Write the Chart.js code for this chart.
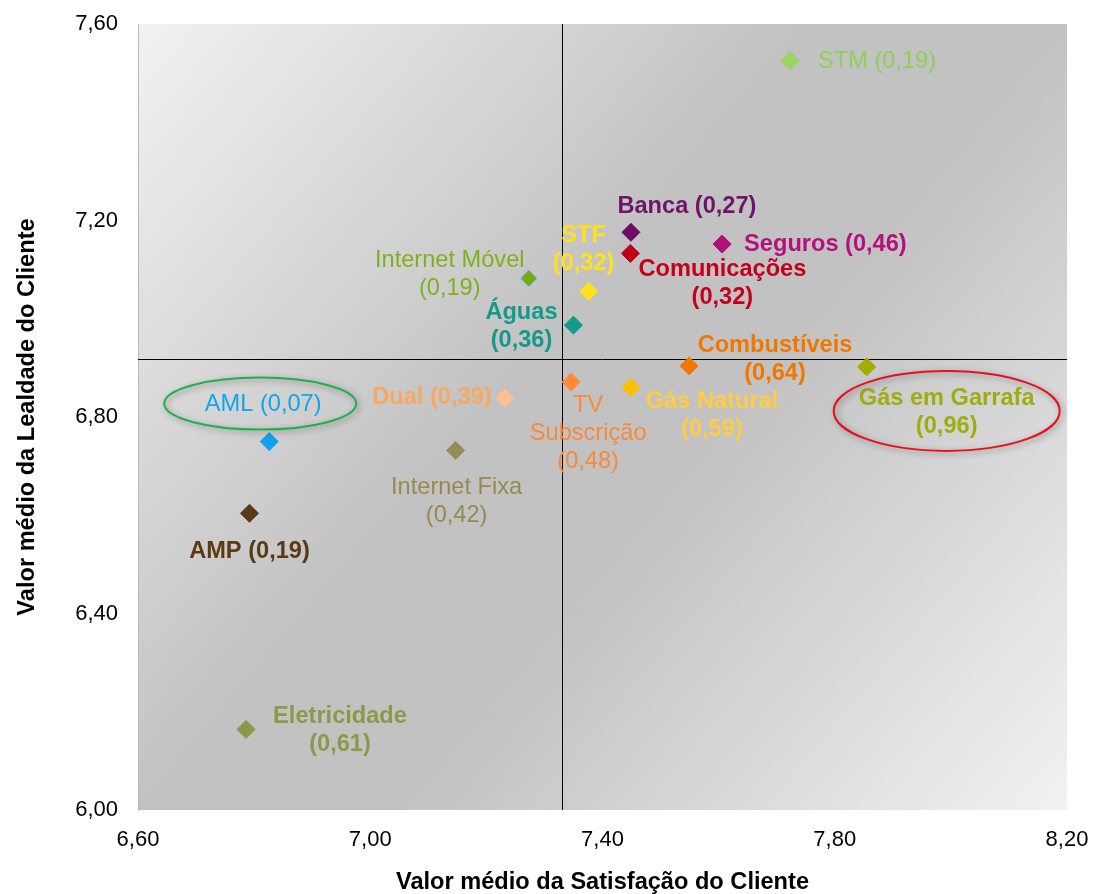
<!DOCTYPE html>
<html>
<head>
<meta charset="utf-8">
<script src="https://cdn.jsdelivr.net/npm/chart.js@4/dist/chart.umd.min.js"></script>
<style>
  html, body { margin: 0; padding: 0; background: #ffffff; }
  #wrap { width: 1093px; height: 894px; position: relative; }
</style>
</head>
<body>
<div id="wrap"><canvas id="chart" width="1093" height="894"></canvas></div>
<script>
// Sectors: mean satisfaction (x), mean loyalty (y) and the coefficient shown in brackets
const sectors = ['STM', 'Banca', 'Seguros', 'Comunicações', 'Internet Móvel', 'STF', 'Águas',
  'Combustíveis', 'Gás em Garrafa', 'TV Subscrição', 'Gás Natural', 'Dual', 'AML',
  'Internet Fixa', 'AMP', 'Eletricidade'];
const satisfaction = [7.723, 7.449, 7.606, 7.448, 7.273, 7.376, 7.350,
  7.549, 7.855, 7.346, 7.449, 7.232, 6.826,
  7.147, 6.792, 6.786];
const loyalty = [7.525, 7.176, 7.152, 7.133, 7.082, 7.056, 6.987,
  6.904, 6.902, 6.871, 6.860, 6.839, 6.750,
  6.732, 6.604, 6.164];
const coefficients = [0.19, 0.27, 0.46, 0.32, 0.19, 0.32, 0.36,
  0.64, 0.96, 0.48, 0.59, 0.39, 0.07,
  0.42, 0.19, 0.61];

// Axis ticks and the quadrant dividers (overall means)
const xTickValues = [6.6, 7.0, 7.4, 7.8, 8.2];
const yTickValues = [6.0, 6.4, 6.8, 7.2, 7.6];
const meanSatisfaction = 7.331;
const meanLoyalty = 6.918;

// Sectors circled on the chart
const highlighted = ['AML', 'Gás em Garrafa'];

// Styling
const markerColors = ['#9bd462', '#6c0f62', '#b0107a', '#c00018', '#78a812', '#ffe21f', '#139a8c',
  '#f07800', '#a2ad00', '#ff8a3a', '#ffc000', '#fcc095', '#10a2f0',
  '#958b55', '#583a14', '#889848'];
const textColors = ['#8fd058', '#70146a', '#b5117e', '#c4001c', '#80b020', '#ffe020', '#149a8c',
  '#f07800', '#a0ad10', '#f78a3c', '#ffcc44', '#f9a862', '#14a4ec',
  '#958a50', '#5a3a12', '#8a9a48'];
// Label placement relative to the marker (px): wrap = inline | stack | words
const labelLayout = [
  { dx: 28, dy: 1, align: 'left', wrap: 'inline', bold: false },
  { dx: 56, dy: -26, wrap: 'inline', bold: true },
  { dx: 22, dy: 0, align: 'left', wrap: 'inline', bold: true },
  { dx: 92, dy: 30, wrap: 'stack', bold: true },
  { dx: -79, dy: -4, wrap: 'stack', bold: false },
  { dx: -5, dy: -42, wrap: 'stack', bold: true },
  { dx: -52, dy: 1, wrap: 'stack', bold: true },
  { dx: 86, dy: -6, wrap: 'stack', bold: true },
  { dx: 80, dy: 46, wrap: 'stack', bold: true },
  { dx: 17, dy: 51, wrap: 'words', bold: false },
  { dx: 81, dy: 28, wrap: 'stack', bold: true },
  { dx: -73, dy: 0, wrap: 'inline', bold: true },
  { dx: -6, dy: -37, wrap: 'inline', bold: false },
  { dx: 1, dy: 51, wrap: 'stack', bold: false },
  { dx: 0, dy: 38, wrap: 'inline', bold: true },
  { dx: 94, dy: 1, wrap: 'stack', bold: true }
];
const ringStyles = {
  'AML': { color: '#1db04b', rx: 96, ry: 26, ox: -3, oy: -1 },
  'Gás em Garrafa': { color: '#e8101c', rx: 113, ry: 40, ox: 0, oy: -2 }
};

const FONT = '"Liberation Sans", Arial, sans-serif';
const fmt = v => v.toFixed(2).replace('.', ',');

function labelLines(i) {
  const name = sectors[i];
  const val = '(' + fmt(coefficients[i]) + ')';
  const w = labelLayout[i].wrap;
  if (w === 'inline') return [name + ' ' + val];
  if (w === 'words') return name.split(' ').concat([val]);
  return [name, val];
}

// Diagonal grey gradient behind the plot area
const plotBackground = {
  id: 'plotBackground',
  beforeDraw(chart) {
    const { ctx, chartArea: a } = chart;
    const g = ctx.createLinearGradient(a.left, a.top, a.right, a.bottom);
    g.addColorStop(0, '#f2f2f2');
    g.addColorStop(0.42, '#c2c2c2');
    g.addColorStop(0.58, '#c2c2c2');
    g.addColorStop(1, '#f2f2f2');
    ctx.save();
    ctx.fillStyle = g;
    ctx.fillRect(a.left, a.top, a.right - a.left, a.bottom - a.top);
    ctx.restore();
  }
};

// Quadrant lines at the mean values
const quadrantLines = {
  id: 'quadrantLines',
  beforeDatasetsDraw(chart) {
    const { ctx, chartArea: a, scales } = chart;
    const x = Math.round(scales.x.getPixelForValue(meanSatisfaction)) + 0.5;
    const y = Math.round(scales.y.getPixelForValue(meanLoyalty)) + 0.5;
    ctx.save();
    ctx.strokeStyle = '#000000';
    ctx.lineWidth = 1;
    ctx.beginPath();
    ctx.moveTo(x, a.top); ctx.lineTo(x, a.bottom);
    ctx.moveTo(a.left, y); ctx.lineTo(a.right, y);
    ctx.stroke();
    ctx.restore();
  }
};

// Sector names with coefficients, plus rings around highlighted sectors
const sectorLabels = {
  id: 'sectorLabels',
  afterDatasetsDraw(chart) {
    const { ctx } = chart;
    const meta = chart.getDatasetMeta(0);
    const lh = 28;
    ctx.save();
    meta.data.forEach((pt, i) => {
      const L = labelLayout[i];
      const lines = labelLines(i);
      const cx = pt.x + L.dx;
      const cy = pt.y + L.dy;
      ctx.font = (L.bold ? 'bold ' : '') + '23.6px ' + FONT;
      ctx.fillStyle = textColors[i];
      ctx.textAlign = L.align || 'center';
      ctx.textBaseline = 'middle';
      const y0 = cy - (lines.length - 1) * lh / 2;
      lines.forEach((t, k) => ctx.fillText(t, cx, y0 + k * lh));

      if (highlighted.includes(sectors[i])) {
        const r = ringStyles[sectors[i]];
        ctx.save();
        ctx.shadowColor = 'rgba(0,0,0,0.4)';
        ctx.shadowBlur = 6;
        ctx.shadowOffsetX = 2;
        ctx.shadowOffsetY = 2;
        ctx.strokeStyle = r.color;
        ctx.lineWidth = 2;
        ctx.beginPath();
        ctx.ellipse(cx + r.ox, cy + r.oy, r.rx, r.ry, 0, 0, Math.PI * 2);
        ctx.stroke();
        ctx.restore();
      }
    });
    ctx.restore();
  }
};

const points = sectors.map((s, i) => ({ x: satisfaction[i], y: loyalty[i] }));
const isOutlined = i => sectors[i] === 'Internet Móvel';

new Chart(document.getElementById('chart'), {
  type: 'scatter',
  data: {
    datasets: [{
      data: points,
      pointStyle: 'rectRot',
      pointRadius: markerColors.map((c, i) => isOutlined(i) ? 10 : 9),
      pointHoverRadius: markerColors.map((c, i) => isOutlined(i) ? 10 : 9),
      backgroundColor: markerColors,
      borderColor: markerColors.map((c, i) => isOutlined(i) ? '#b4c6e6' : c),
      borderWidth: markerColors.map((c, i) => isOutlined(i) ? 2.5 : 1)
    }]
  },
  options: {
    responsive: false,
    animation: false,
    events: [],
    layout: { padding: { left: 0, right: 26, top: 24, bottom: 0 } },
    plugins: { legend: { display: false }, tooltip: { enabled: false } },
    scales: {
      x: {
        type: 'linear',
        min: xTickValues[0],
        max: xTickValues[xTickValues.length - 1],
        afterBuildTicks: s => { s.ticks = xTickValues.map(v => ({ value: v })); },
        afterFit: s => { s.height = 84; s.paddingLeft = 0; s.paddingRight = 0; },
        grid: { display: false, drawTicks: false },
        border: { display: false },
        ticks: {
          padding: 17,
          color: '#000000',
          font: { family: FONT, size: 22 },
          callback: v => fmt(v)
        },
        title: {
          display: true,
          text: 'Valor médio da Satisfação do Cliente',
          color: '#000000',
          font: { family: FONT, size: 23.6, weight: 'bold', lineHeight: 1 },
          padding: { top: 0, bottom: 0 }
        }
      },
      y: {
        type: 'linear',
        min: yTickValues[0],
        max: yTickValues[yTickValues.length - 1],
        afterBuildTicks: s => { s.ticks = yTickValues.map(v => ({ value: v })); },
        afterFit: s => { s.width = 138; s.paddingTop = 0; s.paddingBottom = 0; },
        grid: { display: false, drawTicks: false },
        border: { display: true, color: '#b8b8b8', width: 1 },
        ticks: {
          padding: 20,
          color: '#000000',
          font: { family: FONT, size: 22 },
          callback: v => fmt(v)
        },
        title: {
          display: true,
          text: 'Valor médio da Lealdade do Cliente',
          color: '#000000',
          font: { family: FONT, size: 23.6, weight: 'bold', lineHeight: 1 },
          padding: { top: 16, bottom: 0 }
        }
      }
    }
  },
  plugins: [plotBackground, quadrantLines, sectorLabels]
});
</script>
</body>
</html>
